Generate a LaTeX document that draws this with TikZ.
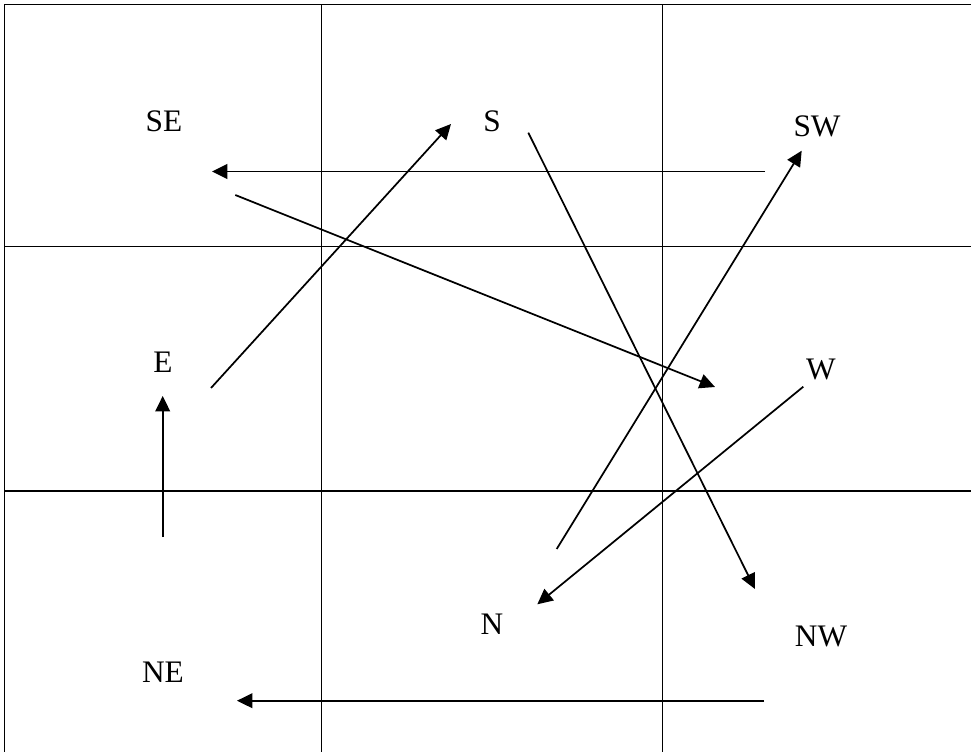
\documentclass[tikz,border=0pt]{standalone}
\usepackage{fontspec}
\setmainfont{Liberation Serif}
\usetikzlibrary{arrows.meta}
\begin{document}
\begin{tikzpicture}[x=0.75pt,y=-0.75pt,
  gridline/.style={line width=0.9pt},
  conn/.style={line width=1.3pt,-{Triangle[length=11.5pt,width=11pt]}},
  lbl/.style={font=\fontsize{23.5}{28}\selectfont, inner sep=0pt}]
\useasboundingbox (0,0) rectangle (971,752);
% table grid
\draw[gridline] (971,4.7) -- (4.7,4.7) -- (4.7,752);
\draw[gridline] (321.7,4.7) -- (321.7,752);
\draw[gridline] (662.7,4.7) -- (662.7,752);
\draw[gridline] (4.7,246.5) -- (971,246.5);
\draw[gridline] (4.7,491) -- (971,491);
% labels
\node[lbl] (SE) at (164,121) {SE};
\node[lbl] (S)  at (492,121) {S};
\node[lbl] (SW) at (817,126) {SW};
\node[lbl] (E)  at (163,362) {E};
\node[lbl] (W)  at (821,369) {W};
\node[lbl] (N)  at (492,624) {N};
\node[lbl] (NW) at (821,636) {NW};
\node[lbl] (NE) at (163,672) {NE};
% connector end points
\coordinate (swSEa) at (765,171.5);
\coordinate (swSEb) at (212,171.5);
\coordinate (seWa) at (235.3,195);
\coordinate (seWb) at (715,387);
\coordinate (eSa) at (211,388);
\coordinate (eSb) at (451,124);
\coordinate (sNWa) at (528.3,132.7);
\coordinate (sNWb) at (755,589);
\coordinate (nSWa) at (556.7,549);
\coordinate (nSWb) at (801.7,150.7);
\coordinate (wNa) at (803.3,386.7);
\coordinate (wNb) at (537.3,604.3);
\coordinate (neEa) at (162.7,537);
\coordinate (neEb) at (162.7,396);
\coordinate (nwNEa) at (764,700.7);
\coordinate (nwNEb) at (237,700.7);
% connectors
\draw[conn] (swSEa) -- (swSEb);
\draw[conn] (seWa) -- (seWb);
\draw[conn] (eSa) -- (eSb);
\draw[conn] (sNWa) -- (sNWb);
\draw[conn] (nSWa) -- (nSWb);
\draw[conn] (wNa) -- (wNb);
\draw[conn] (neEa) -- (neEb);
\draw[conn] (nwNEa) -- (nwNEb);
\end{tikzpicture}
\end{document}
